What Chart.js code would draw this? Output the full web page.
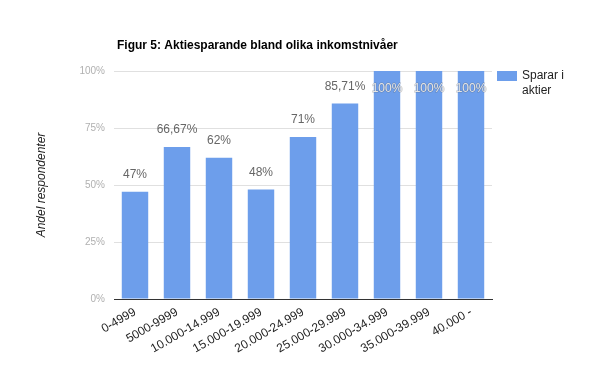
<!DOCTYPE html>
<html>
<head>
<meta charset="utf-8">
<script src="https://cdn.jsdelivr.net/npm/chart.js@4.4.0/dist/chart.umd.min.js"></script>
<style>
  body { margin: 0; background: #fff; }
  #wrap { width: 600px; height: 371px; position: relative; }
</style>
</head>
<body>
<div id="wrap"><canvas id="myChart" width="600" height="371"></canvas></div>
<script>
const kategorier = ["0-4999", "5000-9999", "10.000-14.999", "15.000-19.999", "20.000-24.999",
  "25.000-29.999", "30.000-34.999", "35.000-39.999", "40.000 -"];
const andel = [47, 66.67, 62, 48, 71, 85.71, 100, 100, 100];
const etiketter = ["47%", "66,67%", "62%", "48%", "71%", "85,71%", "100%", "100%", "100%"];
const yTicks = [0, 25, 50, 75, 100];

const titel = "Figur 5: Aktiesparande bland olika inkomstnivåer";
const yTitel = "Andel respondenter";
const serieNamn = ["Sparar i", "aktier"];

const bla = "rgb(109, 158, 235)";

// egen plugin for titel, axeltitel, legend och etiketter
const extraText = {
  id: "extraText",
  afterDatasetsDraw(chart) {
    const c = chart.ctx;
    const area = chart.chartArea;
    const meta = chart.getDatasetMeta(0);
    c.save();
    c.font = "12px 'Liberation Sans', Arial, sans-serif";
    c.textAlign = "center";
    c.textBaseline = "middle";
    meta.data.forEach((bar, i) => {
      let y = bar.y - 17;
      if (y < area.top + 6) {
        y = bar.y + 18;
        c.fillStyle = "#e6e6e6";
        c.strokeStyle = "rgba(90, 90, 90, 0.35)";
        c.lineWidth = 1;
        c.strokeText(etiketter[i], bar.x, y);
      } else {
        c.fillStyle = "#666";
      }
      c.fillText(etiketter[i], bar.x, y);
    });

    // titel
    c.font = "bold 12px 'Liberation Sans', Arial, sans-serif";
    c.fillStyle = "#000";
    c.textAlign = "left";
    c.fillText(titel, 117, 46);

    // y-axelns titel
    c.save();
    c.translate(42, (area.top + area.bottom) / 2);
    c.rotate(-Math.PI / 2);
    c.font = "italic 12px 'Liberation Sans', Arial, sans-serif";
    c.fillStyle = "#222";
    c.textAlign = "center";
    c.fillText(yTitel, 0, 0);
    c.restore();

    // legend
    c.fillStyle = bla;
    c.fillRect(497, 71, 20, 10);
    c.font = "12px 'Liberation Sans', Arial, sans-serif";
    c.fillStyle = "#222";
    c.textAlign = "left";
    c.fillText(serieNamn[0], 522, 76);
    c.fillText(serieNamn[1], 522, 91);
    c.restore();
  }
};

const data = {
  labels: kategorier,
  datasets: [
    {
      label: serieNamn.join(" "),
      data: andel,
      backgroundColor: bla,
      borderWidth: 0,
      categoryPercentage: 1,
      barPercentage: 0.63,
    },
  ],
};

const config = {
  type: "bar",
  data: data,
  options: {
    responsive: false,
    animation: false,
    layout: { padding: { left: 54, right: 108, top: 71, bottom: 12 } },
    plugins: {
      legend: { display: false },
      title: { display: false },
      tooltip: { enabled: false },
    },
    scales: {
      x: {
        grid: { display: false, drawTicks: false },
        border: { color: "#333", width: 1 },
        ticks: {
          color: "#222",
          font: { size: 12, family: "'Liberation Sans', Arial, sans-serif" },
          minRotation: 30,
          maxRotation: 30,
          padding: 6,
          autoSkip: false,
        },
        afterFit: (s) => { s.height = 60; },
      },
      y: {
        min: 0,
        max: 100,
        afterBuildTicks: (s) => { s.ticks = yTicks.map((v) => ({ value: v })); },
        grid: { color: "#e0e0e0", drawTicks: false },
        border: { display: false },
        ticks: {
          color: "#b0b0b0",
          font: { size: 10, family: "'Liberation Sans', Arial, sans-serif" },
          padding: 9,
          callback: (v) => v + "%",
        },
        afterFit: (s) => { s.width = 60; },
      },
    },
  },
  plugins: [extraText],
};

const ctx = document.getElementById("myChart");
const myChart = new Chart(ctx, config);
</script>
</body>
</html>
